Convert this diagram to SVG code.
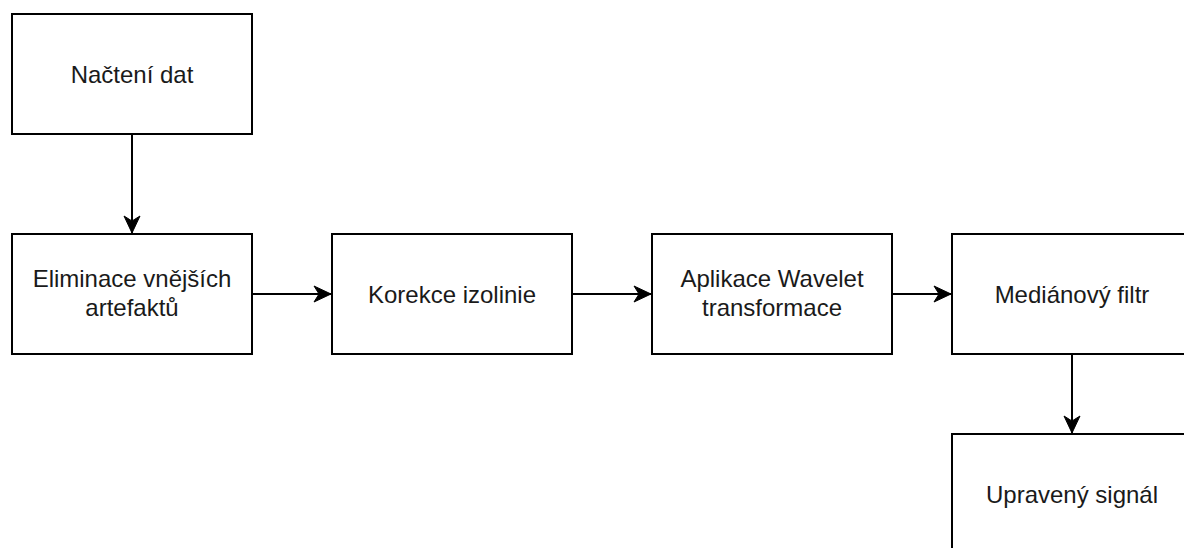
<svg xmlns="http://www.w3.org/2000/svg" width="1184" height="548" viewBox="0 0 1184 548">
  <style>
    .box { fill: #ffffff; stroke: #000000; stroke-width: 2; }
    .lbl { font-family: "Liberation Sans", Arial, Helvetica, sans-serif; font-size: 24px; fill: #1a1a1a; text-anchor: middle; }
    .edge { fill: none; stroke: #000000; stroke-width: 2; }
  </style>
  <defs>
    <marker id="arrow" markerUnits="userSpaceOnUse" markerWidth="20" markerHeight="20" viewBox="-18 -9 20 18" refX="0" refY="0" orient="auto">
      <path d="M0,0 L-17,-8 L-12,0 L-17,8 Z" fill="#000000" stroke="#000000" stroke-width="1"/>
    </marker>
  </defs>
  <rect width="1184" height="548" fill="#ffffff"/>

  <g id="connectors">
    <path class="edge" d="M132,134 L132,233" marker-end="url(#arrow)"/>
    <path class="edge" d="M252,294 L331,294" marker-end="url(#arrow)"/>
    <path class="edge" d="M572,294 L651,294" marker-end="url(#arrow)"/>
    <path class="edge" d="M892,294 L951,294" marker-end="url(#arrow)"/>
    <path class="edge" d="M1072,354 L1072,433" marker-end="url(#arrow)"/>
  </g>

  <g id="node-nacteni">
    <rect class="box" x="12" y="14" width="240" height="120"/>
    <text class="lbl" x="132" y="83">Načtení dat</text>
  </g>
  <g id="node-eliminace">
    <rect class="box" x="12" y="234" width="240" height="120"/>
    <text class="lbl" x="132" y="287">Eliminace vnějších</text>
    <text class="lbl" x="132" y="316">artefaktů</text>
  </g>
  <g id="node-korekce">
    <rect class="box" x="332" y="234" width="240" height="120"/>
    <text class="lbl" x="452" y="303">Korekce izolinie</text>
  </g>
  <g id="node-wavelet">
    <rect class="box" x="652" y="234" width="240" height="120"/>
    <text class="lbl" x="772" y="287">Aplikace Wavelet</text>
    <text class="lbl" x="772" y="316">transformace</text>
  </g>
  <g id="node-median">
    <rect class="box" x="952" y="234" width="240" height="120"/>
    <text class="lbl" x="1072" y="303">Mediánový filtr</text>
  </g>
  <g id="node-upraveny">
    <rect class="box" x="952" y="434" width="240" height="120"/>
    <text class="lbl" x="1072" y="503">Upravený signál</text>
  </g>
</svg>
